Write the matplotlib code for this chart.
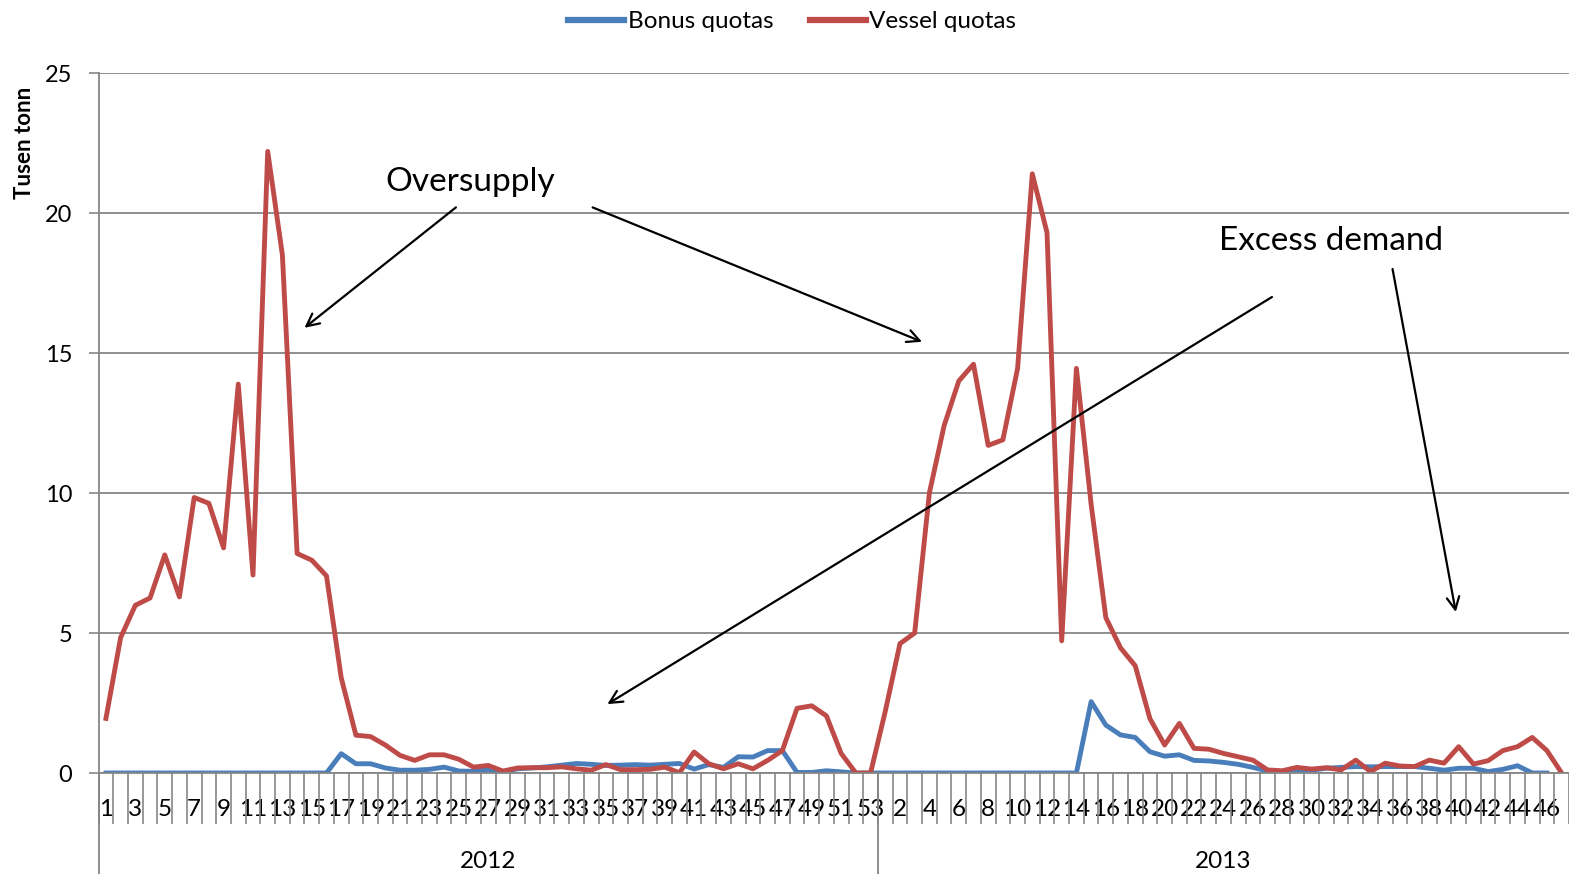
import numpy as np
import matplotlib
matplotlib.use("Agg")
import matplotlib.pyplot as plt
import matplotlib.transforms as mtransforms

plt.rcParams['font.family'] = ['Lato', 'DejaVu Sans']

# week labels: 2012 has 53 weeks, 2013 runs to week 47
weeks_2012 = list(range(1, 54))
weeks_2013 = list(range(1, 48))
years = ["2012", "2013"]

vessel_2012 = [1.95, 4.84, 5.99, 6.25, 7.79, 6.29, 9.84, 9.63, 8.04, 13.89,
               7.07, 22.2, 18.5, 7.84, 7.6, 7.04, 3.4, 1.35, 1.3, 1.0,
               0.63, 0.45, 0.65, 0.65, 0.49, 0.21, 0.27, 0.07, 0.18, 0.19,
               0.19, 0.22, 0.15, 0.1, 0.3, 0.12, 0.12, 0.13, 0.21, 0.01,
               0.75, 0.33, 0.15, 0.33, 0.15, 0.45, 0.8, 2.31, 2.4, 2.04,
               0.7, 0.0, 0.0]
vessel_2013 = [2.2, 4.62, 5.0, 10.0, 12.4, 14.0, 14.6, 11.7, 11.9, 14.45,
               21.4, 19.3, 4.72, 14.45, 9.6, 5.55, 4.47, 3.83, 1.94, 1.0,
               1.77, 0.88, 0.85, 0.7, 0.58, 0.46, 0.11, 0.08, 0.2, 0.14,
               0.19, 0.11, 0.46, 0.05, 0.35, 0.25, 0.23, 0.46, 0.35, 0.94,
               0.32, 0.44, 0.8, 0.94, 1.27, 0.8, 0.0]
bonus_2012 = [0.0] * 16 + [0.69, 0.33, 0.33, 0.18, 0.1, 0.1, 0.13, 0.21, 0.07, 0.06,
                           0.13, 0.04, 0.15, 0.18, 0.22, 0.28, 0.34, 0.31, 0.27, 0.28,
                           0.3, 0.28, 0.31, 0.34, 0.14, 0.3, 0.2, 0.58, 0.57, 0.8,
                           0.8, 0.02, 0.02, 0.08, 0.04, 0.0, 0.0]
bonus_2013 = [0.0] * 14 + [2.55, 1.71, 1.36, 1.27, 0.76, 0.6, 0.65, 0.45, 0.43, 0.38,
                           0.31, 0.2, 0.07, 0.03, 0.08, 0.1, 0.17, 0.2, 0.23, 0.22,
                           0.23, 0.23, 0.23, 0.17, 0.1, 0.17, 0.17, 0.05, 0.13, 0.26,
                           0.0, 0.0]

BLUE = "#4A7EBB"
RED = "#BE4B48"
GRID = "#868686"

labels = weeks_2012 + weeks_2013
n = len(labels)
x = np.arange(n)
vessel = vessel_2012 + vessel_2013
bonus = bonus_2012 + bonus_2013 + [np.nan] * (n - len(bonus_2012) - len(bonus_2013))

fig = plt.figure(figsize=(15.69, 8.74), dpi=100)
ax = fig.add_axes([98.6 / 1569, 101 / 874, 1 - 98.6 / 1569, 700 / 874])

ax.plot(x, bonus, color=BLUE, lw=3.5, label="Bonus quotas", solid_joinstyle="round")
ax.plot(x, vessel, color=RED, lw=3.5, label="Vessel quotas", solid_joinstyle="round")

ax.set_xlim(-0.5, n - 0.5)
ax.set_ylim(0, 25)
ax.set_yticks([0, 5, 10, 15, 20, 25])
ax.yaxis.grid(True, color=GRID, lw=1.3)
ax.set_axisbelow(True)
ax.tick_params(axis="y", length=7, width=1.2, color=GRID, labelsize=17, pad=12)

# category separators (minor ticks) and week labels (major ticks)
ax.set_xticks(np.arange(-0.5, n, 1), minor=True)
ax.tick_params(axis="x", which="minor", length=37, width=1.2, color=GRID)
ax.set_xticks(x[::2])
ax.set_xticklabels([str(v) for v in labels[::2]])
ax.tick_params(axis="x", which="major", length=0, labelsize=17.5, pad=19)

for s in ["top", "right"]:
    ax.spines[s].set_visible(False)
for s in ["left", "bottom"]:
    ax.spines[s].set_color(GRID)
    ax.spines[s].set_linewidth(1.3)

# year level of the category axis
trans = mtransforms.blended_transform_factory(ax.transData, ax.transAxes)
split = len(weeks_2012) - 0.5
for xv in [-0.5, split]:
    ax.plot([xv, xv], [0, -0.15], color=GRID, lw=1.3, transform=trans, clip_on=False)
ax.text((len(weeks_2012) - 1) / 2, -0.126, years[0], transform=trans,
        ha="center", va="center", fontsize=17.5)
ax.text(len(weeks_2012) + (len(weeks_2013) - 1) / 2, -0.126, years[1], transform=trans,
        ha="center", va="center", fontsize=17.5)

ax.set_ylabel("Tusen tonn", fontsize=16, fontweight="bold")
ax.yaxis.set_label_coords(-0.043, 0.9)

# annotations
arrow = dict(arrowstyle="->,head_length=0.9,head_width=0.45", color="black", lw=1.6,
             shrinkA=0, shrinkB=0)
ax.text(24.8, 21.1, "Oversupply", fontsize=24, ha="center", va="center")
ax.annotate("", xy=(13.5, 15.9), xytext=(23.8, 20.2), arrowprops=arrow)
ax.annotate("", xy=(55.5, 15.4), xytext=(33.1, 20.2), arrowprops=arrow)
ax.text(83.3, 19.0, "Excess demand", fontsize=24, ha="center", va="center")
ax.annotate("", xy=(34.1, 2.46), xytext=(79.3, 17.0), arrowprops=arrow)
ax.annotate("", xy=(91.8, 5.75), xytext=(87.5, 18.0), arrowprops=arrow)

leg = fig.legend(loc="upper center", bbox_to_anchor=(0.505, 1.012), ncol=2, frameon=False,
                 fontsize=17.5, handlelength=2.3, handletextpad=0.15, columnspacing=1.5)
for h in leg.get_lines():
    h.set_linewidth(4.5)

fig.savefig("out.png", dpi=100)
